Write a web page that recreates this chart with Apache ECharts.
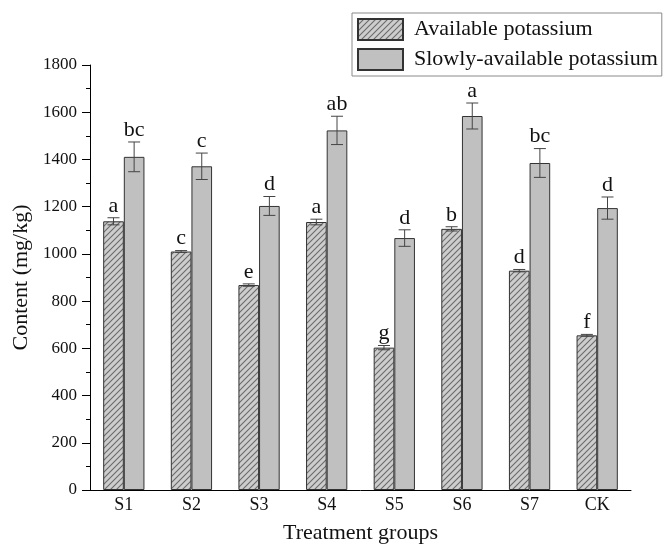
<!DOCTYPE html>
<html>
<head>
<meta charset="utf-8">
<script src="https://cdn.jsdelivr.net/npm/echarts@6/dist/echarts.min.js"></script>
<style>html,body{margin:0;padding:0;background:#fff;}#c{width:665px;height:549px;}</style>
</head>
<body>
<div id="c"></div>
<script>
const categories = ['S1', 'S2', 'S3', 'S4', 'S5', 'S6', 'S7', 'CK'];
const availVals = [1138, 1010, 868, 1135, 603, 1106, 929, 655];
const availErr = [15, 4, 5, 12, 9, 9, 5, 4];
const slowVals = [1411, 1371, 1203, 1523, 1067, 1584, 1385, 1194];
const slowErr = [63, 56, 40, 60, 35, 55, 61, 47];
const availLetters = ['a', 'c', 'e', 'a', 'g', 'b', 'd', 'f'];
const slowLetters = ['bc', 'c', 'd', 'ab', 'd', 'a', 'bc', 'd'];
const yTicks = [0, 200, 400, 600, 800, 1000, 1200, 1400, 1600, 1800];

const FONT = '"Liberation Serif", "Times New Roman", serif';

// hatch pattern
const pc = document.createElement('canvas');
pc.width = 6; pc.height = 6;
const g = pc.getContext('2d');
g.fillStyle = '#cdcdcd';
g.fillRect(0, 0, 6, 6);
g.strokeStyle = '#6a6a6a';
g.lineWidth = 1.1;
g.beginPath();
g.moveTo(-1, 7); g.lineTo(7, -1);
g.moveTo(-4, 4); g.lineTo(4, -4);
g.moveTo(2, 10); g.lineTo(10, 2);
g.stroke();
const hatch = { image: pc, repeat: 'repeat' };

const BAR_FRAC = 0.305;

function errSeries(vals, errs, letters, side) {
  return {
    type: 'custom',
    xAxisIndex: 0,
    yAxisIndex: 0,
    silent: true,
    z: 10,
    data: vals.map((v, i) => [i, v, errs[i]]),
    renderItem: function (params, api) {
      const i = api.value(0), v = api.value(1), e = api.value(2);
      const band = api.size([1, 0])[0];
      const cx = api.coord([i, v])[0] + side * band * BAR_FRAC / 2;
      const yTop = api.coord([i, v + e])[1];
      const yBot = api.coord([i, v - e])[1];
      const cap = 6;
      const st = { stroke: '#444', lineWidth: 1 };
      return {
        type: 'group',
        children: [
          { type: 'line', shape: { x1: cx, y1: yTop, x2: cx, y2: yBot }, style: st },
          { type: 'line', shape: { x1: cx - cap, y1: yTop, x2: cx + cap, y2: yTop }, style: st },
          { type: 'line', shape: { x1: cx - cap, y1: yBot, x2: cx + cap, y2: yBot }, style: st },
          { type: 'text', style: { text: letters[i], x: cx, y: yTop - 1, align: 'center', verticalAlign: 'bottom', fontSize: 22, fontFamily: FONT, fill: '#111' } }
        ]
      };
    }
  };
}

const chart = echarts.init(document.getElementById('c'), null, { renderer: 'canvas' });
chart.setOption({
  animation: false,
  backgroundColor: '#fff',
  textStyle: { fontFamily: FONT, color: '#111' },
  legend: {
    data: ['Available potassium', 'Slowly-available potassium'],
    orient: 'vertical',
    left: 352,
    top: 13,
    itemWidth: 45,
    itemHeight: 21,
    itemGap: 7,
    padding: [5, 4, 5, 5],
    borderColor: '#8a8a8a',
    borderWidth: 1,
    icon: 'rect',
    textStyle: { fontFamily: FONT, fontSize: 22, color: '#111', padding: [0, 0, 0, 6] }
  },
  grid: { left: 90, right: 34, top: 65, bottom: 55, containLabel: false },
  xAxis: [
    {
      type: 'category',
      data: categories,
      position: 'bottom',
      name: 'Treatment groups',
      nameLocation: 'middle',
      nameGap: 32,
      nameTextStyle: { fontFamily: FONT, fontSize: 22, color: '#111' },
      axisLine: { onZero: false, lineStyle: { color: '#000', width: 1 } },
      axisTick: { alignWithLabel: true, length: 7, lineStyle: { color: '#000' } },
      axisLabel: { fontFamily: FONT, fontSize: 18, color: '#111', margin: 6 }
    },
    {
      type: 'category',
      data: categories,
      position: 'bottom',
      axisLine: { show: false, onZero: false },
      axisTick: { alignWithLabel: false, length: 4, lineStyle: { color: '#000' } },
      axisLabel: { show: false },
      splitLine: { show: false }
    }
  ],
  yAxis: {
    type: 'value',
    min: 0,
    max: 1800,
    interval: 200,
    name: 'Content (mg/kg)',
    nameLocation: 'middle',
    nameGap: 52,
    nameTextStyle: { fontFamily: FONT, fontSize: 22, color: '#111' },
    axisLine: { show: true, lineStyle: { color: '#000', width: 1 } },
    axisTick: { show: true, length: 8, lineStyle: { color: '#000' } },
    minorTick: { show: true, splitNumber: 2, length: 4, lineStyle: { color: '#000' } },
    splitLine: { show: false },
    axisLabel: {
      fontFamily: FONT, fontSize: 17, color: '#111', margin: 13,
      formatter: function (v) { return yTicks.indexOf(v) >= 0 ? String(v) : ''; }
    }
  },
  series: [
    {
      name: 'Available potassium',
      type: 'bar',
      xAxisIndex: 0,
      data: availVals,
      barWidth: (BAR_FRAC * 100) + '%',
      barGap: '0%',
      itemStyle: { color: hatch, borderColor: '#333', borderWidth: 1 }
    },
    {
      name: 'Slowly-available potassium',
      type: 'bar',
      xAxisIndex: 0,
      data: slowVals,
      barWidth: (BAR_FRAC * 100) + '%',
      barGap: '0%',
      itemStyle: { color: '#c0c0c0', borderColor: '#333', borderWidth: 1 }
    },
    errSeries(availVals, availErr, availLetters, -1),
    errSeries(slowVals, slowErr, slowLetters, 1)
  ]
});
</script>
</body>
</html>
